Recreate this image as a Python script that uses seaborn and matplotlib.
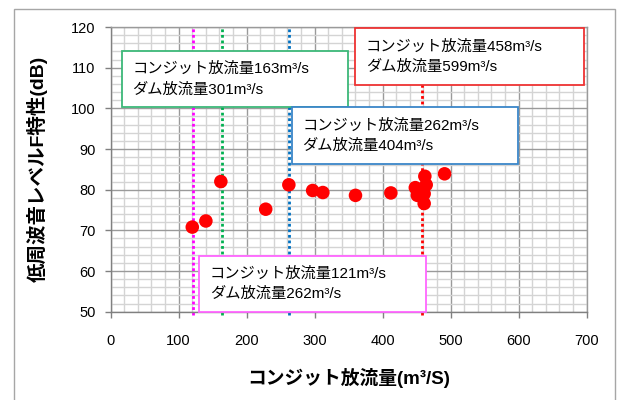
import matplotlib
matplotlib.use("Agg")
import matplotlib.pyplot as plt
from matplotlib.patches import Rectangle
from matplotlib.ticker import MultipleLocator
import seaborn as sns
import pandas as pd

conduit_flow = [120, 140, 162, 228, 262, 297, 312, 360, 412, 448, 452, 451, 461, 461, 464, 462, 491]
lf_level = [70.8, 72.3, 82.0, 75.2, 81.2, 79.8, 79.3, 78.6, 79.2, 80.5, 79.4, 78.6, 79.0, 76.6, 81.2, 83.3, 83.9]

# 基準放流量の縦線
ref_flows = [121, 163, 262, 458]
ref_colors = ["#FF00FF", "#00B050", "#0070C0", "#FF0000"]

# 注記ボックス: (文字, 左, 下, 右, 上, 枠色)
notes = [
    ("コンジット放流量163m³/s\nダム放流量301m³/s", 16, 100.3, 349, 114.1, "#3CB878"),
    ("コンジット放流量458m³/s\nダム放流量599m³/s", 359, 105.7, 696, 119.7, "#EE3333"),
    ("コンジット放流量262m³/s\nダム放流量404m³/s", 266, 86.2, 599, 100.3, "#3A86C8"),
    ("コンジット放流量121m³/s\nダム放流量262m³/s", 130, 50.0, 464, 63.8, "#FF66FF"),
]

df = pd.DataFrame({"flow": conduit_flow, "level": lf_level})

sns.set_theme(style="white")
plt.rcParams["font.family"] = ["Liberation Sans", "Noto Sans CJK JP"]

fig = plt.figure(figsize=(6.19, 4.00), dpi=100)
ax = fig.add_axes([0.1788, 0.2208, 0.7690, 0.7117])

# 外枠
fig.patches.append(Rectangle((0.0226, -0.02), 0.971, 0.9975, transform=fig.transFigure,
                             fill=False, edgecolor="#A6A6A6", linewidth=1.0))

ax.set_xlim(0, 700)
ax.set_ylim(50, 120)
ax.xaxis.set_major_locator(MultipleLocator(100))
ax.xaxis.set_minor_locator(MultipleLocator(20))
ax.yaxis.set_major_locator(MultipleLocator(10))
ax.yaxis.set_minor_locator(MultipleLocator(2))
ax.grid(which="major", color="#9A9A9A", linewidth=1.0, zorder=0)
ax.grid(which="minor", color="#D4D4D4", linewidth=1.0, zorder=0)
ax.set_axisbelow(True)

for r, c in zip(ref_flows, ref_colors):
    ax.axvline(r, ymin=-0.01, ymax=1, color=c, linestyle=(0, (1, 1)), linewidth=2.0, zorder=2, clip_on=False)

sns.scatterplot(data=df, x="flow", y="level", color="#FF0000", s=95, edgecolor="none", zorder=3, ax=ax)

for txt, x0, y0, x1, y1, col in notes:
    ax.add_patch(Rectangle((x0, y0), x1 - x0, y1 - y0, facecolor="white", edgecolor=col,
                           linewidth=1.3, zorder=4, clip_on=False))
    ax.text(x0 + 16, (y0 + y1) / 2, txt, ha="left", va="center", fontsize=11,
            linespacing=1.55, color="#000000", zorder=5)

for s in ax.spines.values():
    s.set_color("#9A9A9A")
    s.set_linewidth(1.0)
ax.spines["left"].set_color("#808080")
ax.spines["bottom"].set_color("#808080")

ax.tick_params(axis="both", which="major", length=4, width=1, color="#808080",
               labelsize=10.5, labelcolor="#000000", bottom=True, left=True)
ax.tick_params(axis="x", pad=12)
ax.tick_params(axis="y", pad=7)
ax.tick_params(which="minor", length=0)

ax.set_xlabel("コンジット放流量(m³/S)", fontsize=13.5, fontweight="bold", color="#000000")
ax.set_ylabel("低周波音レベルF特性(dB)", fontsize=14, fontweight="bold", color="#000000")
ax.xaxis.set_label_coords(0.5, -0.198)
ax.yaxis.set_label_coords(-0.132, 0.5)

fig.savefig("out.png", dpi=100)
